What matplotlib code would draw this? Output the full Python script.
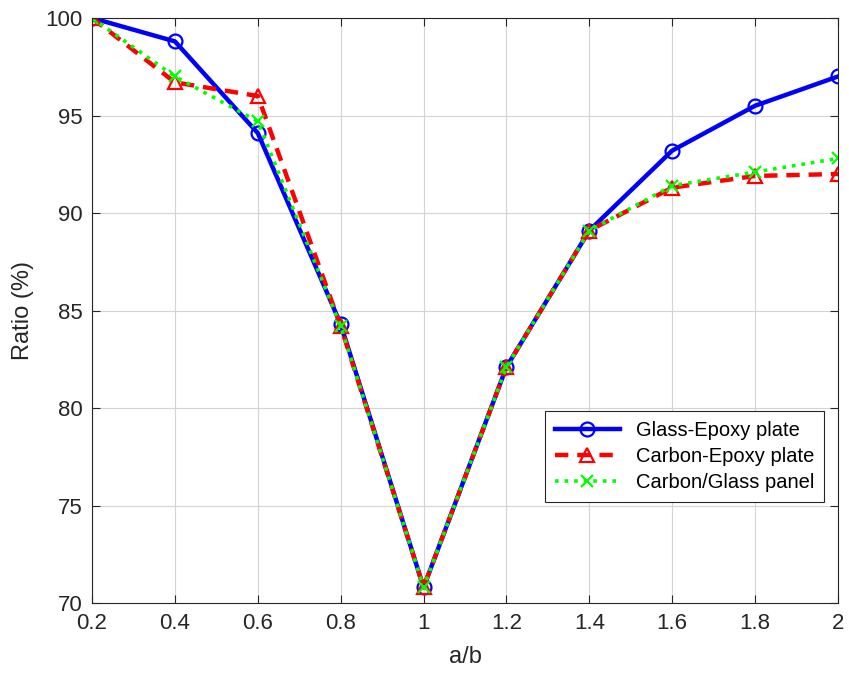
import matplotlib
matplotlib.use("Agg")
import matplotlib.pyplot as plt

plt.rcParams['font.family'] = ['Liberation Sans', 'DejaVu Sans']

ab = [0.2, 0.4, 0.6, 0.8, 1.0, 1.2, 1.4, 1.6, 1.8, 2.0]
glass_epoxy = [100.0, 98.8, 94.1, 84.3, 70.8, 82.1, 89.1, 93.2, 95.5, 97.0]
carbon_epoxy = [100.0, 96.7, 96.0, 84.2, 70.8, 82.1, 89.1, 91.3, 91.9, 92.0]
carbon_glass = [100.0, 97.0, 94.7, 84.2, 70.8, 82.1, 89.1, 91.4, 92.1, 92.8]

xticks = [0.2, 0.4, 0.6, 0.8, 1, 1.2, 1.4, 1.6, 1.8, 2]
xticklabels = ['0.2', '0.4', '0.6', '0.8', '1', '1.2', '1.4', '1.6', '1.8', '2']
yticks = [70, 75, 80, 85, 90, 95, 100]

fig = plt.figure(figsize=(8.49, 6.74), dpi=100)
ax = fig.add_axes([0.1084, 0.1053, 0.8786, 0.868])

ax.plot(ab, glass_epoxy, '-', color='#0000ff', lw=3.2, marker='o', ms=10,
        mfc='none', mew=1.6, label='Glass-Epoxy plate')
ax.plot(ab, carbon_epoxy, '--', color='#ff0000', lw=3.2, marker='^', ms=10,
        mfc='none', mew=1.6, dashes=(3, 2), label='Carbon-Epoxy plate')
ax.plot(ab, carbon_glass, ':', color='#00ff00', lw=2.6, marker='x', ms=8,
        mew=1.6, label='Carbon/Glass panel')

ax.set_xlim(0.2, 2)
ax.set_ylim(70, 100)
ax.set_xticks(xticks)
ax.set_xticklabels(xticklabels)
ax.set_yticks(yticks)
ax.grid(True, color='#d4d4d4', lw=0.8)
ax.set_axisbelow(True)

ax.tick_params(direction='in', top=True, right=True, length=6, width=0.8,
               labelsize=16, colors='#262626', pad=7)
for s in ax.spines.values():
    s.set_color('#262626')
    s.set_linewidth(0.8)

ax.set_xlabel('a/b', fontsize=17, color='#262626', labelpad=9)
ax.set_ylabel('Ratio (%)', fontsize=17, color='#262626', labelpad=8)

leg = ax.legend(loc='lower right', bbox_to_anchor=(0.995, 0.155), fontsize=14.5,
                fancybox=False, framealpha=1, edgecolor='#262626',
                handlelength=3.2, borderpad=0.5, labelspacing=0.35)
leg.get_frame().set_linewidth(0.8)

fig.savefig('out.png', dpi=100)
